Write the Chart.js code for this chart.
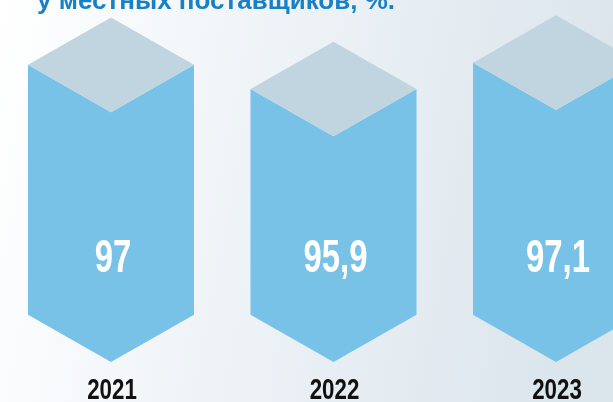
<!DOCTYPE html>
<html>
<head>
<meta charset="utf-8">
<script src="https://cdn.jsdelivr.net/npm/chart.js@4/dist/chart.umd.min.js"></script>
<style>
  html, body { margin: 0; padding: 0; background: #ffffff; }
  #wrap { width: 613px; height: 402px; position: relative; }
</style>
</head>
<body>
<div id="wrap"><canvas id="chart" width="613" height="402"></canvas></div>
<script>
// Share of purchases from local suppliers, %
const categories = ['2021', '2022', '2023'];
const shareValues = [97, 95.9, 97.1];
const titleLine = 'у местных поставщиков, %.';

const Y_MIN = 81.3;
const Y_MAX = 97.8;

const FRONT = '#78c2e8';
const TOP = '#c1d5e0';
const TITLE_BLUE = '#1a80c6';

function formatValue(v) {
  return String(v).replace('.', ',');
}

// Draws text squeezed horizontally to imitate a condensed typeface
function condensedText(ctx, text, x, y, font, color, squeeze) {
  ctx.save();
  ctx.font = font;
  ctx.fillStyle = color;
  ctx.textAlign = 'center';
  ctx.textBaseline = 'alphabetic';
  ctx.translate(x, y);
  ctx.scale(squeeze, 1);
  ctx.fillText(text, 0, 0);
  ctx.restore();
}

const backdrop = {
  id: 'backdrop',
  beforeDraw(chart) {
    const { ctx, width, height } = chart;
    const g = ctx.createLinearGradient(0, 0, width, height * 0.3);
    g.addColorStop(0, '#ffffff');
    g.addColorStop(0.45, '#eef3f7');
    g.addColorStop(1, '#dbe5ec');
    ctx.save();
    ctx.fillStyle = g;
    ctx.fillRect(0, 0, width, height);
    // heading line, partly above the visible area
    ctx.font = 'bold 25px "Liberation Sans", Arial, sans-serif';
    ctx.fillStyle = TITLE_BLUE;
    ctx.textBaseline = 'alphabetic';
    ctx.textAlign = 'left';
    const w = ctx.measureText(titleLine).width;
    ctx.translate(37, 9);
    ctx.scale(358 / w, 1);
    ctx.fillText(titleLine, 0, 0);
    ctx.restore();
  }
};

// Hexagonal prisms built on the bar elements' positions
const prisms = {
  id: 'prisms',
  afterDatasetsDraw(chart) {
    const { ctx } = chart;
    const meta = chart.getDatasetMeta(0);
    const xScale = chart.scales.x;
    meta.data.forEach((bar, i) => {
      const { x, y, base, width } = bar.getProps(['x', 'y', 'base', 'width'], true);
      const half = width / 2;
      const h = width * 0.285;
      ctx.save();
      // front faces
      ctx.beginPath();
      ctx.moveTo(x - half, y + h);
      ctx.lineTo(x, y + 2 * h);
      ctx.lineTo(x + half, y + h);
      ctx.lineTo(x + half, base - h);
      ctx.lineTo(x, base);
      ctx.lineTo(x - half, base - h);
      ctx.closePath();
      ctx.fillStyle = FRONT;
      ctx.fill();
      // top face
      ctx.beginPath();
      ctx.moveTo(x, y);
      ctx.lineTo(x + half, y + h);
      ctx.lineTo(x, y + 2 * h);
      ctx.lineTo(x - half, y + h);
      ctx.closePath();
      ctx.fillStyle = TOP;
      ctx.fill();
      ctx.restore();

      // value inside the prism
      condensedText(ctx, formatValue(shareValues[i]), x + 2, base - 90,
        'bold 47px "Liberation Sans", Arial, sans-serif', '#ffffff', 0.7);
      // year under the prism
      const px = xScale.getPixelForValue(i);
      condensedText(ctx, categories[i], px + 1, base + 37,
        'bold 29px "Liberation Sans", Arial, sans-serif', '#111111', 0.77);
    });
  }
};

new Chart(document.getElementById('chart'), {
  type: 'bar',
  data: {
    labels: categories,
    datasets: [{
      data: shareValues,
      base: Y_MIN,
      backgroundColor: 'rgba(0,0,0,0)',
      borderWidth: 0,
      barThickness: 166
    }]
  },
  options: {
    responsive: false,
    animation: false,
    events: [],
    layout: { padding: { top: 0, bottom: 40, left: 111, right: 57 } },
    plugins: {
      legend: { display: false },
      tooltip: { enabled: false },
      title: { display: false }
    },
    scales: {
      x: { display: false, offset: false },
      y: { display: false, min: Y_MIN, max: Y_MAX }
    }
  },
  plugins: [backdrop, prisms]
});
</script>
</body>
</html>
